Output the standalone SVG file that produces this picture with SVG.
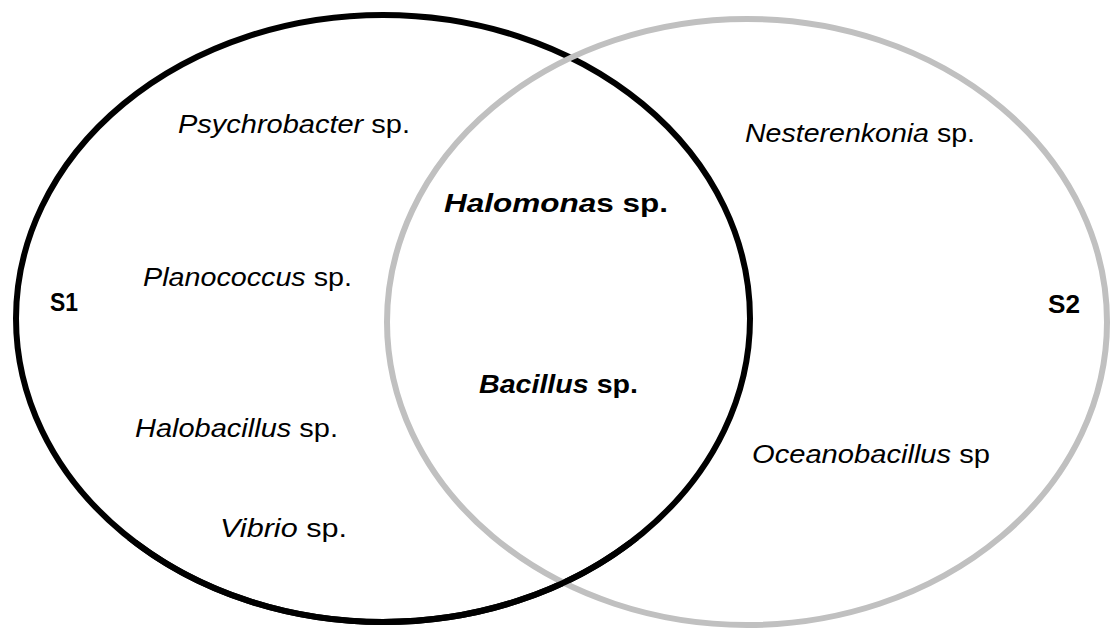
<svg xmlns="http://www.w3.org/2000/svg" width="1111" height="630" viewBox="0 0 1111 630">
<style>
.t{font-family:"Liberation Sans",Arial,sans-serif;font-size:26px;fill:#000}
.i{font-style:italic}
.b{font-weight:bold}
.ring{fill:none;stroke-width:6}
</style>
<defs>
<clipPath id="low"><rect x="0" y="540" width="1111" height="90"/></clipPath>
</defs>
<rect width="1111" height="630" fill="#fff"/>
<g id="set-s1"><ellipse class="ring" cx="383" cy="318.5" rx="367" ry="303.5" stroke="#000"/></g>
<g id="set-s2"><ellipse class="ring" cx="747" cy="322" rx="360" ry="303" stroke="#c0c0c0"/></g>
<g id="set-s1-over"><ellipse class="ring" cx="383" cy="318.5" rx="367" ry="303.5" stroke="#000" clip-path="url(#low)"/></g>
<g id="labels">
<text class="t b" x="50" y="311" textLength="28" lengthAdjust="spacingAndGlyphs">S1</text>
<text class="t b" x="1048" y="313" textLength="32" lengthAdjust="spacingAndGlyphs">S2</text>
</g>
<g id="s1-only">
<text class="t" x="178" y="133" textLength="232" lengthAdjust="spacingAndGlyphs"><tspan class="i">Psychrobacter</tspan> sp.</text>
<text class="t" x="143" y="286" textLength="209" lengthAdjust="spacingAndGlyphs"><tspan class="i">Planococcus</tspan> sp.</text>
<text class="t" x="135" y="437" textLength="203" lengthAdjust="spacingAndGlyphs"><tspan class="i">Halobacillus</tspan> sp.</text>
<text class="t" x="220" y="537" textLength="127" lengthAdjust="spacingAndGlyphs"><tspan class="i">Vibrio</tspan> sp.</text>
</g>
<g id="shared">
<text class="t b" x="444" y="212" textLength="224" lengthAdjust="spacingAndGlyphs"><tspan class="i">Halomona</tspan>s sp.</text>
<text class="t b" x="479" y="393" textLength="159" lengthAdjust="spacingAndGlyphs"><tspan class="i">Bacillus</tspan> sp.</text>
</g>
<g id="s2-only">
<text class="t" x="745" y="142" textLength="230" lengthAdjust="spacingAndGlyphs"><tspan class="i">Nesterenkonia</tspan> sp.</text>
<text class="t" x="752" y="463" textLength="238" lengthAdjust="spacingAndGlyphs"><tspan class="i">Oceanobacillus</tspan> sp</text>
</g>
</svg>
